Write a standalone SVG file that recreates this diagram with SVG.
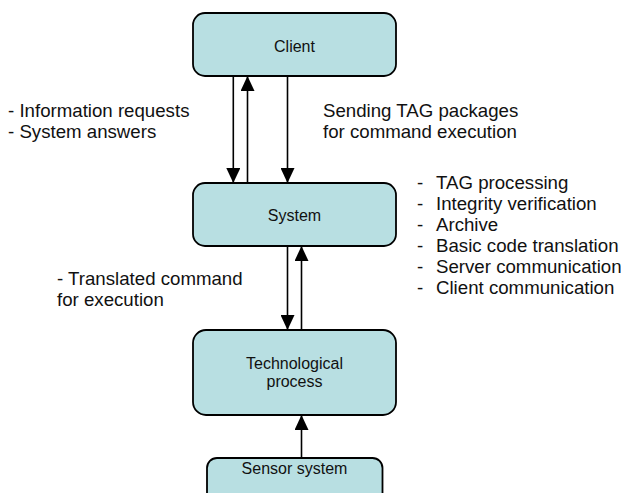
<svg xmlns="http://www.w3.org/2000/svg" width="621" height="493" viewBox="0 0 621 493">
  <style>
    .box { fill: #B8DFE2; stroke: #000; stroke-width: 1.8; }
    .nlabel { font-family: "Liberation Sans", Arial, sans-serif; font-size: 16px; fill: #111; text-anchor: middle; }
    .lbl { font-family: "Liberation Sans", Arial, sans-serif; font-size: 18.67px; fill: #111; }
    .conn { stroke: #000; stroke-width: 1.6; fill: none; marker-end: url(#arrow); }
  </style>
  <defs>
    <marker id="arrow" markerUnits="userSpaceOnUse" markerWidth="15" markerHeight="14" refX="15" refY="7" orient="auto" viewBox="0 0 15 14">
      <path d="M0,0 L15,7 L0,14 Z" fill="#000"/>
    </marker>
  </defs>
  <rect width="621" height="493" fill="#fff"/>

  <g id="connectors">
    <line class="conn" x1="233.3" y1="76" x2="233.3" y2="183"/>
    <line class="conn" x1="247.5" y1="183" x2="247.5" y2="76"/>
    <line class="conn" x1="287.5" y1="76" x2="287.5" y2="183"/>
    <line class="conn" x1="287.5" y1="246" x2="287.5" y2="330"/>
    <line class="conn" x1="301.5" y1="330" x2="301.5" y2="246"/>
    <line class="conn" x1="301.5" y1="458" x2="301.5" y2="415"/>
  </g>

  <g id="client">
    <rect class="box" x="193" y="13" width="203" height="63" rx="12"/>
    <text class="nlabel" x="294.5" y="51.5">Client</text>
  </g>
  <g id="system">
    <rect class="box" x="193" y="183" width="203" height="63" rx="12"/>
    <text class="nlabel" x="294.5" y="220.5">System</text>
  </g>
  <g id="technological-process">
    <rect class="box" x="193" y="330" width="203" height="85" rx="13"/>
    <text class="nlabel" x="294.5" y="368.5">Technological</text>
    <text class="nlabel" x="294.5" y="386.5">process</text>
  </g>
  <g id="sensor-system">
    <rect class="box" x="207" y="458" width="175.5" height="50" rx="10"/>
    <text class="nlabel" x="294.5" y="474">Sensor system</text>
  </g>

  <g id="labels">
    <text class="lbl" x="8" y="117">- Information requests</text>
    <text class="lbl" x="8" y="138">- System answers</text>
    <text class="lbl" x="323" y="117">Sending TAG packages</text>
    <text class="lbl" x="323" y="138">for command execution</text>
    <text class="lbl" x="57" y="285">- Translated command</text>
    <text class="lbl" x="57" y="306">for execution</text>
    <text class="lbl" y="188.5"><tspan x="417">- </tspan><tspan x="436">TAG processing</tspan></text>
    <text class="lbl" y="209.5"><tspan x="417">- </tspan><tspan x="436">Integrity verification</tspan></text>
    <text class="lbl" y="230.5"><tspan x="417">- </tspan><tspan x="436">Archive</tspan></text>
    <text class="lbl" y="251.5"><tspan x="417">- </tspan><tspan x="436">Basic code translation</tspan></text>
    <text class="lbl" y="272.5"><tspan x="417">- </tspan><tspan x="436">Server communication</tspan></text>
    <text class="lbl" y="293.5"><tspan x="417">- </tspan><tspan x="436">Client communication</tspan></text>
  </g>
</svg>
